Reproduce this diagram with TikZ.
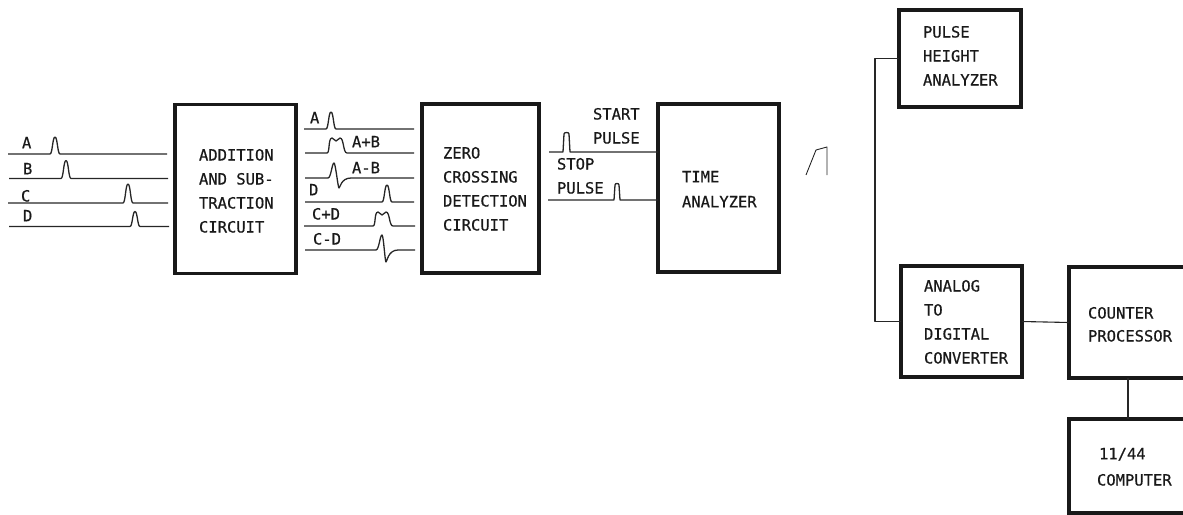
\documentclass[tikz,border=0pt]{standalone}
\usepackage{fontspec}
\setmainfont[FakeBold=0.6]{DejaVu Sans Mono}
\newcommand{\bumpat}[3]{-- (#1-5,#2) .. controls (#1-2.5,#2) and (#1-2.5,#2-#3) .. (#1,#2-#3) .. controls (#1+2.5,#2-#3) and (#1+2.5,#2) .. (#1+5,#2)}
\newcommand{\dblbump}[4]{-- (#1,#3) .. controls (#1+3,#3) and (#1+1,#3-#4) .. (#1+5,#3-#4) .. controls (#1+7,#3-#4) and (#1+7,#3-#4+3) .. (#1+9,#3-#4+3) .. controls (#1+11,#3-#4+3) and (#1+11,#3-#4) .. (#1+13,#3-#4) .. controls (#2-3,#3-#4) and (#2-4,#3) .. (#2,#3)}
\newcommand{\bipolar}[5]{-- (#1-6,#2) .. controls (#1-3,#2) and (#1-2,#2-#3) .. (#1,#2-#3) .. controls (#1+1.5,#2-#3) and (#1+#5-1,#2+#4) .. (#1+#5,#2+#4) .. controls (#1+#5+1,#2+#4) and (#1+#5+2,#2) .. (#1+#5+12,#2)}
\newcommand{\squarepulse}[4]{-- (#1-1,#3) -- (#1,#3-#4+2) .. controls (#1,#3-#4) and (#2,#3-#4) .. (#2,#3-#4+2) -- (#2+1,#3)}
\tikzset{
  x=1pt,y=-1pt,
  blockbox/.style={draw=black!90,line width=3.05pt,minimum width=#1,inner sep=0pt,outer sep=0pt},
  wire/.style={draw=black!85,line width=1.1pt,line join=round},
  signal/.style={draw=black!85,line width=1.3pt,line join=round},
  caption/.style={anchor=north west,inner sep=0pt,outer sep=0pt,align=left,text=black!90,
    font=\fontsize{15.5}{24}\selectfont},
}
\begin{document}
\begin{tikzpicture}
\useasboundingbox (0,0) rectangle (1183,514);
\clip (0,0) rectangle (1183,514);
% blocks
\node[blockbox=121pt,minimum height=169pt] (add) at (235.5,189) {};
\node[blockbox=117pt,minimum height=169pt] (zero) at (480.5,188.5) {};
\node[blockbox=121pt,minimum height=168pt] (time) at (718.5,188) {};
\node[blockbox=122pt,minimum height=97pt] (pha) at (960,58.5) {};
\node[blockbox=121pt,minimum height=111pt] (adc) at (961.5,321.5) {};
\node[blockbox=118pt,minimum height=111pt] (cnt) at (1128,322.5) {};
\node[blockbox=118pt,minimum height=94pt] (comp) at (1128,466) {};
% block texts
\node[caption] (tadd) at (199,149) {ADDITION\\AND SUB-\\TRACTION\\CIRCUIT};
\node[caption] (tzero) at (443,147) {ZERO\\CROSSING\\DETECTION\\CIRCUIT};
\node[caption,font=\fontsize{15.5}{25}\selectfont] (ttime) at (682,171) {TIME\\ANALYZER};
\node[caption] (tpha) at (923,26) {PULSE\\HEIGHT\\ANALYZER};
\node[caption] (tadc) at (924,280) {ANALOG\\TO\\DIGITAL\\CONVERTER};
\node[caption,font=\fontsize{15.5}{23}\selectfont] (tcnt) at (1088,307) {COUNTER\\PROCESSOR};
\node[caption] (t11) at (1099,448) {11/44};
\node[caption] (tcomp) at (1097,474) {COMPUTER};
% connectors between blocks
\draw[wire] (pha.west) -- ++(-24,0) coordinate (bend) |- (adc.west);
\draw[wire] (adc.east) -- (cnt.west);
\draw[wire] (cnt.south) -- (comp.north);
% input signals
\coordinate (ia) at (8,154);  \coordinate (ib) at (9,178.5);
\coordinate (ic) at (8,203);  \coordinate (id) at (9,226.5);
\coordinate (ja) at (167,154);  \coordinate (jb) at (168,178.5);
\coordinate (jc) at (168,203);  \coordinate (jd) at (169,226.5);
\draw[signal] (ia) \bumpat{55}{154}{17} -- (ja);
\draw[signal] (ib) \bumpat{66}{178.5}{18} -- (jb);
\draw[signal] (ic) \bumpat{128}{203}{19} -- (jc);
\draw[signal] (id) \bumpat{135}{226.5}{15} -- (jd);
\node[caption] (la) at (22,137) {A};
\node[caption] (lb) at (23,163) {B};
\node[caption] (lc) at (21,190) {C};
\node[caption] (ld) at (23,210) {D};
% intermediate signals
\coordinate (ka) at (304,129);   \coordinate (ma) at (414,129);
\coordinate (kb) at (305,153);   \coordinate (mb) at (414,153);
\coordinate (kc) at (305,178);   \coordinate (mc) at (414,178);
\coordinate (kd) at (305,202);   \coordinate (md) at (414,202);
\coordinate (ke) at (304,226);   \coordinate (me) at (415,226);
\coordinate (kf) at (305,250);   \coordinate (mf) at (415,250);
\draw[signal] (ka) \bumpat{331}{129}{17} -- (ma);
\draw[signal] (kb) \dblbump{327}{347}{153}{15} -- (mb);
\draw[signal] (kc) \bipolar{334}{178}{15}{10}{5} -- (mc);
\draw[signal] (kd) \bumpat{387}{202}{17} -- (md);
\draw[signal] (ke) \dblbump{373}{393}{226}{14} -- (me);
\draw[signal] (kf) \bipolar{382}{250}{15}{12}{4} -- (mf);
\node[caption] (l1) at (310,112) {A};
\node[caption] (l2) at (352,136) {A+B};
\node[caption] (l3) at (352,162) {A-B};
\node[caption] (l4) at (309,184) {D};
\node[caption] (l5) at (312,208) {C+D};
\node[caption] (l6) at (313,233) {C-D};
% start and stop
\coordinate (st) at (549,152);
\coordinate (sp) at (548,200);
\draw[signal] (st) \squarepulse{564}{569}{152}{20} -- (time.west |- st);
\draw[signal] (sp) \squarepulse{615}{619}{200}{17} -- (time.west |- sp);
\node[caption] (tstart) at (593,108) {START\\PULSE};
\node[caption] (tstop) at (557,158) {STOP\\PULSE};
% ramp
\coordinate (r1) at (806,175); \coordinate (r2) at (816,150);
\coordinate (r3) at (827,147); \coordinate (r4) at (827,175);
\draw[signal,line width=0.9pt] (r1) -- (r2) -- (r3) -- (r4);
\end{tikzpicture}
\end{document}
